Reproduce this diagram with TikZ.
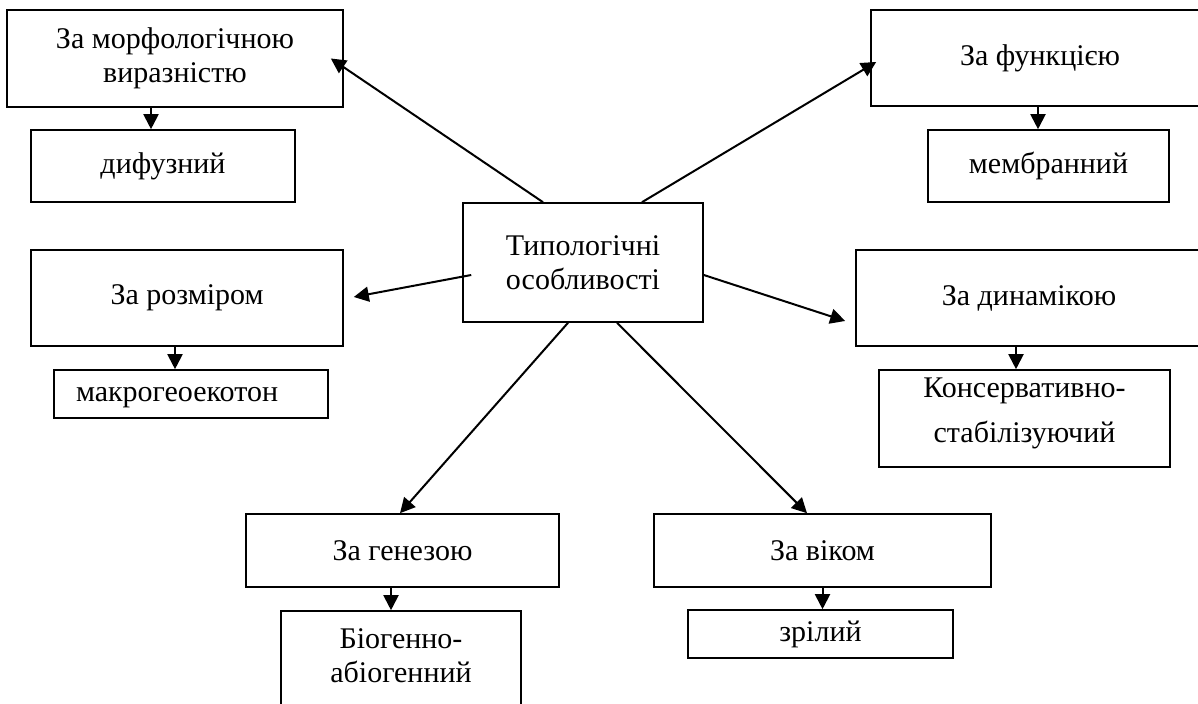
\documentclass[tikz,border=0pt]{standalone}
\usepackage{fontspec}
\setmainfont{Liberation Serif}
\usetikzlibrary{arrows.meta}

\begin{document}
\begin{tikzpicture}[x=0.5pt, y=-0.5pt]
    \useasboundingbox (0,0) rectangle (1198,704);
    \begin{scope}[font=\fontsize{15}{17}\selectfont]

    \tikzstyle{bnode} = [draw=black, line width=0.8pt, rectangle, inner sep = 0pt, align=center]
    \tikzstyle{arr} = [line width=1pt, -{Triangle[length=7.5pt, width=7.5pt]}]

    % centre
    \node[bnode, minimum width=120pt, minimum height=59.5pt] (tip) at (583,262.5) {Типологічні\\особливості};

    % categories
    \node[bnode, minimum width=168pt, minimum height=48.5pt] (morf) at (175,58.5) {За морфологічною\\виразністю};
    \node[bnode, minimum width=169pt, minimum height=48pt] (funk) at (1040,58) {За функцією};
    \node[bnode, minimum width=156pt, minimum height=48pt] (rozm) at (187,298) {За розміром};
    \node[bnode, minimum width=173pt, minimum height=48pt] (dyn) at (1029,298) {За динамікою};
    \node[bnode, minimum width=156.5pt, minimum height=36.5pt] (gen) at (402.5,550.5) {За генезою};
    \node[bnode, minimum width=168.5pt, minimum height=36.5pt] (vik) at (822.5,550.5) {За віком};

    % values
    \node[bnode, minimum width=132pt, minimum height=36pt] (dyf) at (163,166) {дифузний};
    \node[bnode, minimum width=120.5pt, minimum height=36pt] (memb) at (1048.5,166) {мембранний};
    \node[bnode, text width=115pt, inner xsep=11pt, align=left, text depth=0pt, minimum height=24pt] (makro) at (191,394) {макрогеоекотон};
    \node[bnode, minimum width=145.5pt, minimum height=48.5pt, text depth=8pt] (kons) at (1024.5,418.5) {Консервативно-\\[5.5pt]стабілізуючий};
    \node[bnode, minimum width=120pt, minimum height=48.5pt, text depth=3.5pt] (biog) at (401,659.5) {Біогенно-\\абіогенний};
    \node[bnode, minimum width=132.5pt, minimum height=24pt] (zril) at (820.5,634) {зрілий};

    % edge centre to categories
    \draw[arr] ([xshift=-20pt]tip.north) -- ([xshift=-6.5pt]morf.east);
    \draw[arr] ([xshift=29.5pt]tip.north) -- ([xshift=3pt, yshift=-2pt]funk.west);
    \draw[arr] ([xshift=4.5pt, yshift=-6.25pt]tip.west) -- ([xshift=5pt, yshift=0.5pt]rozm.east);
    \draw[arr] ([yshift=-6.25pt]tip.east) -- ([xshift=-5pt, yshift=-11.5pt]dyn.west);
    \draw[arr] ([xshift=-7.5pt]tip.south) -- ([xshift=-1.25pt]gen.north);
    \draw[arr] ([xshift=17pt]tip.south) -- ([xshift=-7.75pt]vik.north);

    % edge categories to values
    \draw[arr] ([xshift=-12pt]morf.south) -- ([xshift=-12pt]morf.south |- dyf.north);
    \draw[arr] ([xshift=-1pt]funk.south) -- ([xshift=-1pt]funk.south |- memb.north);
    \draw[arr] ([xshift=-6pt]rozm.south) -- ([xshift=-6pt]rozm.south |- makro.north);
    \draw[arr] ([xshift=-6.5pt]dyn.south) -- ([xshift=-6.5pt]dyn.south |- kons.north);
    \draw[arr] ([xshift=-5.75pt]gen.south) -- ([xshift=-5.75pt]gen.south |- biog.north);
    \draw[arr] (vik.south) -- (vik.south |- zril.north);

    \end{scope}
\end{tikzpicture}
\end{document}
